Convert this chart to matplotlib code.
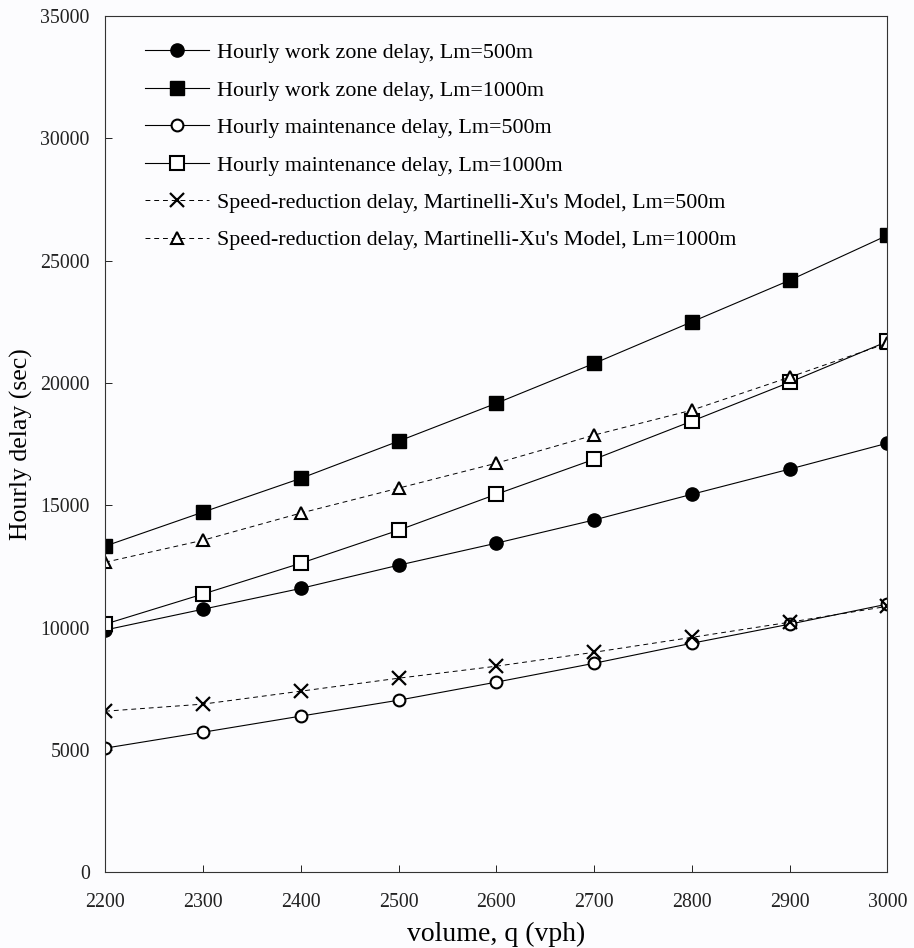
import numpy as np
import matplotlib.pyplot as plt

# traffic volume (vph)
volume = [2200, 2300, 2400, 2500, 2600, 2700, 2800, 2900, 3000]

# hourly delays (sec)
wz_500 = [9900, 10750, 11600, 12550, 13450, 14400, 15450, 16480, 17540]
wz_1000 = [13330, 14720, 16100, 17620, 19170, 20800, 22500, 24200, 26040]
mt_500 = [5070, 5720, 6380, 7030, 7770, 8540, 9360, 10140, 10960]
mt_1000 = [10140, 11370, 12630, 13980, 15450, 16880, 18440, 20030, 21700]
sr_500 = [6580, 6870, 7400, 7930, 8420, 8990, 9600, 10220, 10870]
sr_1000 = [12670, 13570, 14680, 15700, 16720, 17870, 18890, 20240, 21630]

labels = ["Hourly work zone delay, Lm=500m",
          "Hourly work zone delay, Lm=1000m",
          "Hourly maintenance delay, Lm=500m",
          "Hourly maintenance delay, Lm=1000m",
          "Speed-reduction delay, Martinelli-Xu's Model, Lm=500m",
          "Speed-reduction delay, Martinelli-Xu's Model, Lm=1000m"]

plt.rcParams['font.family'] = ['Liberation Serif', 'DejaVu Serif']

def main():
    bg = '#fcfcfe'
    fig = plt.figure(figsize=(9.14, 9.48), dpi=100, facecolor=bg)
    ax = fig.add_axes([0.115, 0.080, 0.856, 0.903], facecolor=bg)
    dash = (0, (5, 4))
    common = dict(color='black', lw=0.8)
    ax.plot(volume, wz_500, marker='o', ms=9.5, mfc='black', mec='black',
            label=labels[0], **common)
    ax.plot(volume, wz_1000, marker='s', ms=9.5, mfc='black', mec='black',
            label=labels[1], **common)
    ax.plot(volume, mt_500, marker='o', ms=8.5, mfc='white', mec='black',
            mew=1.5, label=labels[2], **common)
    ax.plot(volume, mt_1000, marker='s', ms=9.5, mfc='white', mec='black',
            mew=1.5, label=labels[3], **common)
    ax.plot(volume, sr_500, marker='x', ms=9.5, mec='black', mew=1.6,
            ls=dash, label=labels[4], color='black', lw=0.7)
    ax.plot(volume, sr_1000, marker='^', ms=8.5, mfc='white', mec='black',
            mew=1.5, ls=dash, label=labels[5], color='black', lw=0.7)

    ax.set_xlim(2200, 3000)
    ax.set_ylim(0, 35000)
    ax.set_xticks(np.arange(2200, 3001, 100))
    ax.set_yticks(np.arange(0, 35001, 5000))
    ax.tick_params(direction='in', length=5, width=0.7, labelsize=14.3,
                   colors='#222222')
    ax.tick_params(axis='x', pad=15)
    ax.tick_params(axis='y', pad=11)
    for s in ax.spines.values():
        s.set_linewidth(0.8)
        s.set_color('#333333')

    ax.set_xlabel("volume, q (vph)", fontsize=20, labelpad=7)
    ax.set_ylabel("Hourly delay (sec)", fontsize=18.5, labelpad=5)

    ax.legend(loc='upper left', bbox_to_anchor=(0.026, 0.992), frameon=False,
              fontsize=15.8, handlelength=2.9, handletextpad=0.36,
              labelspacing=0.78)

    fig.savefig('out.png', dpi=100, facecolor=bg)

if __name__ == '__main__':
    main()
